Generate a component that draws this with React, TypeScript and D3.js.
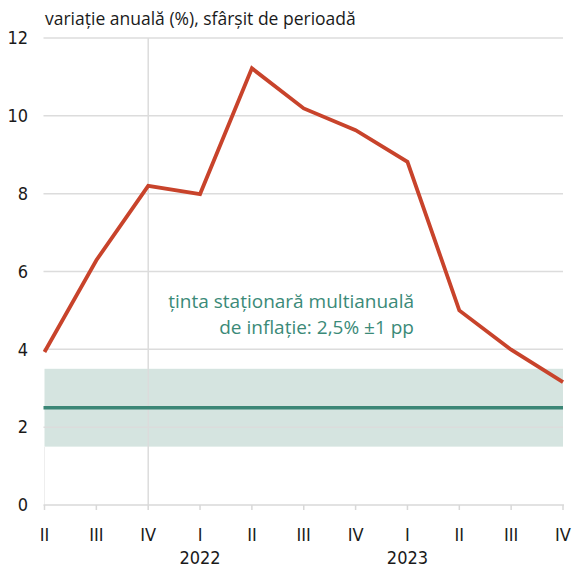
import React from "react";
import * as d3 from "d3";

const quarters = ["II", "III", "IV", "I", "II", "III", "IV", "I", "II", "III", "IV"];
const years = [
  { label: "2022", index: 3 },
  { label: "2023", index: 7 },
];
const inflation = [3.93, 6.29, 8.2, 7.99, 11.22, 10.19, 9.63, 8.82, 5.0, 3.99, 3.16];
const yTicks = [0, 2, 4, 6, 8, 10, 12];
const targetCenter = 2.5;
const targetBand = [1.5, 3.5];
const title = "variație anuală (%), sfârșit de perioadă";
const noteLines = ["ținta staționară multianuală", "de inflație: 2,5% ±1 pp"];

const W = 572;
const H = 570;
const left = 44.5;
const right = 563;
const top = 38;
const bottom = 505;

export default function App() {
  const x = d3.scalePoint<number>().domain(d3.range(quarters.length)).range([left, right]);
  const y = d3.scaleLinear().domain([0, 12]).range([bottom, top]);
  const line = d3
    .line<number>()
    .x((_, i) => x(i)!)
    .y((d) => y(d));
  const labelFont = "'Liberation Sans Narrow', 'DejaVu Sans Condensed', 'Open Sans', sans-serif";
  const textFont = "'Open Sans', 'Noto Sans', sans-serif";

  return (
    <svg
      width={W}
      height={H}
      style={{ position: "absolute", left: 0, top: 0, background: "#fff" }}
    >
      <rect
        x={left}
        y={y(targetBand[1])}
        width={right - left}
        height={y(targetBand[0]) - y(targetBand[1])}
        fill="#d5e4e0"
      />
      {yTicks.filter((t) => t > 0).map((t) => (
        <line key={t} x1={left - 1} x2={right} y1={y(t)} y2={y(t)} stroke="#dcdcdc" strokeWidth={1.5} />
      ))}
      <line x1={x(2)} x2={x(2)} y1={top} y2={bottom} stroke="#dcdcdc" strokeWidth={1.5} />
      <line x1={left} x2={left} y1={y(targetBand[0])} y2={bottom} stroke="#eeeeee" strokeWidth={1} />
      <line x1={left - 1} x2={right + 1} y1={bottom} y2={bottom} stroke="#d8d8d8" strokeWidth={1.5} />
      {quarters.map((_, i) => (
        <line key={i} x1={x(i)} x2={x(i)} y1={bottom} y2={bottom + 5} stroke="#d8d8d8" strokeWidth={1.5} />
      ))}
      <line
        x1={left - 1}
        x2={right}
        y1={y(targetCenter)}
        y2={y(targetCenter)}
        stroke="#3b8676"
        strokeWidth={3.5}
      />
      <path d={line(inflation) || ""} fill="none" stroke="#c8432b" strokeWidth={3.8} strokeLinejoin="miter" />
      {yTicks.map((t) => (
        <text
          key={t}
          x={28}
          y={y(t)}
          dy="0.35em"
          textAnchor="end"
          fontFamily={labelFont}
          fontSize={18}
          fill="#1a1a1a"
        >
          {t}
        </text>
      ))}
      {quarters.map((q, i) => (
        <text
          key={i}
          x={x(i)}
          y={541}
          textAnchor="middle"
          fontFamily={labelFont}
          fontSize={18}
          fill="#1a1a1a"
        >
          {q}
        </text>
      ))}
      {years.map((yr) => (
        <text
          key={yr.label}
          x={x(yr.index)}
          y={564}
          textAnchor="middle"
          fontFamily={labelFont}
          fontSize={18}
          fill="#1a1a1a"
        >
          {yr.label}
        </text>
      ))}
      <text x={45} y={25} fontFamily={textFont} fontSize={17.5} fill="#1a1a1a">
        {title}
      </text>
      {noteLines.map((l, i) => (
        <text
          key={i}
          x={414}
          y={308 + i * 26}
          textAnchor="end"
          fontFamily={textFont}
          fontSize={19}
          fill="#3b8a78"
        >
          {l}
        </text>
      ))}
    </svg>
  );
}
